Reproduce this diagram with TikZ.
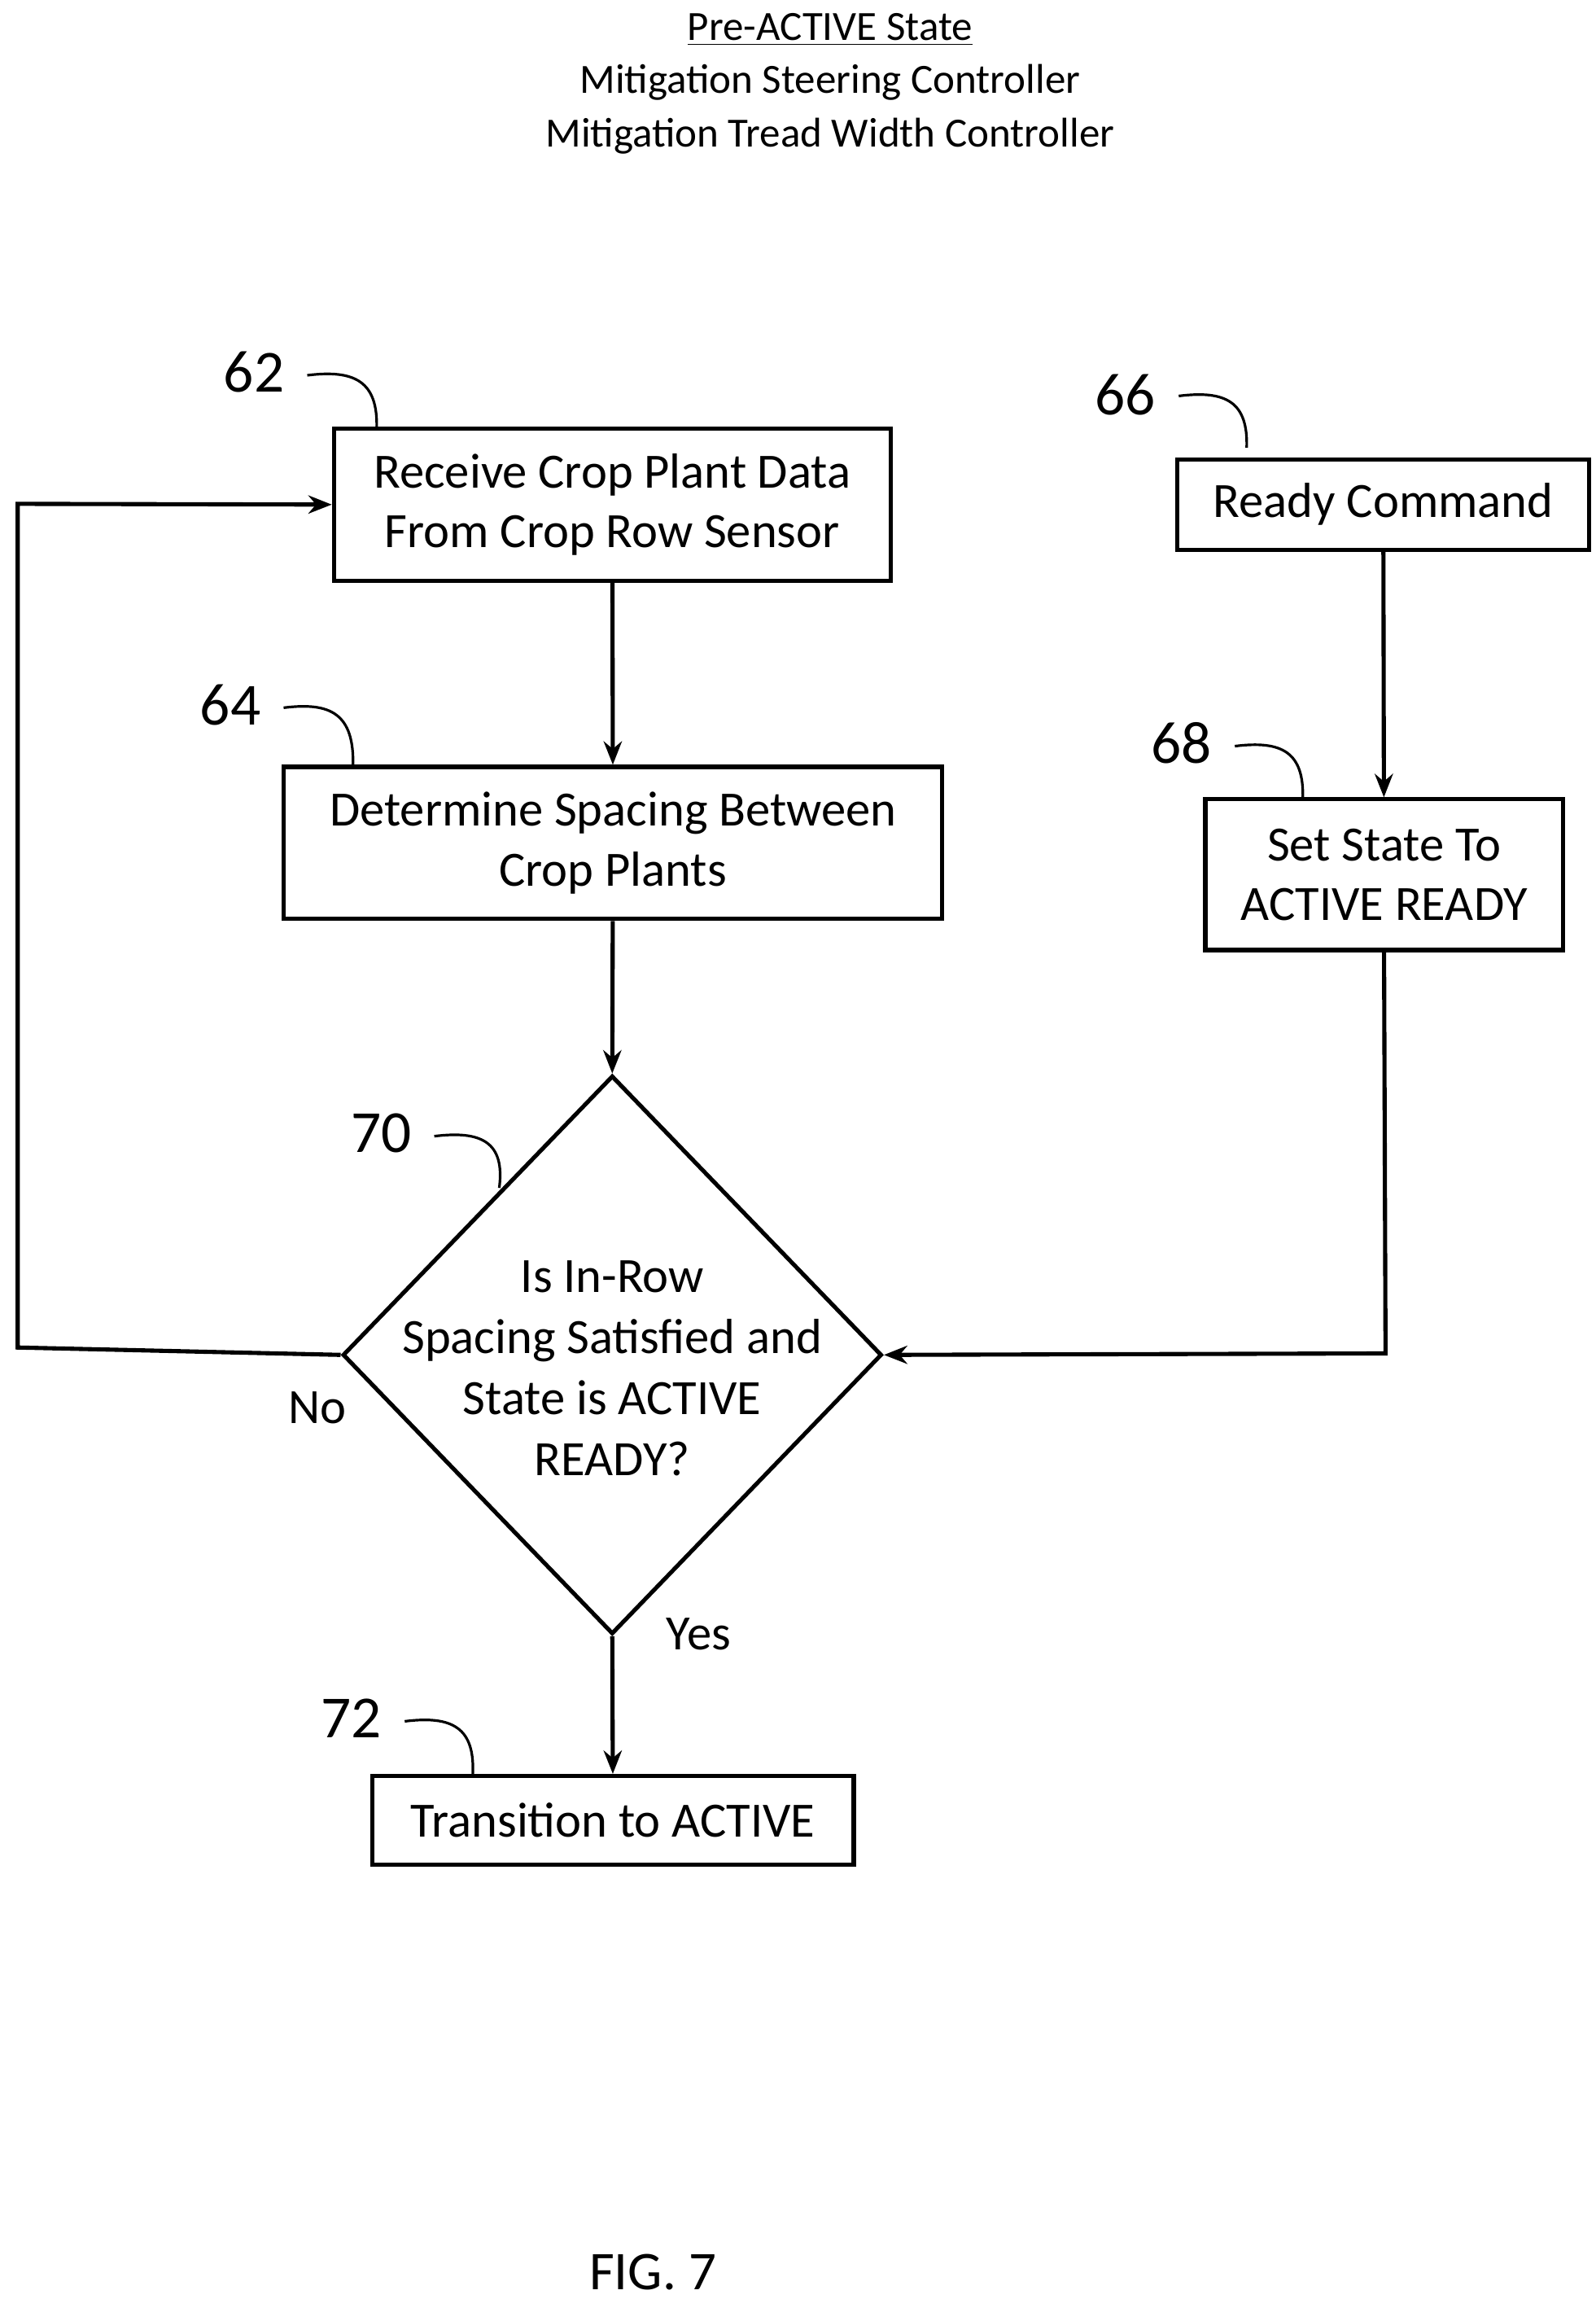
\documentclass[tikz,border=0pt]{standalone}
\usepackage{fontspec}
\setmainfont{Carlito}
\usetikzlibrary{arrows.meta,shapes.geometric}
\begin{document}
\begin{tikzpicture}[x=0.02cm,y=-0.02cm,
  box/.style={draw,line width=1.6pt,inner sep=0,font=\fontsize{19}{23}\selectfont,align=center},
  lbl/.style={font=\fontsize{23}{26}\selectfont},
  sq/.style={line width=1pt},
  arr/.style={line width=1.6pt,-{Stealth[length=9pt,width=7pt]}},
  ln/.style={line width=1.6pt}]
\useasboundingbox (0,0) rectangle (1080,1556);
\node[font=\fontsize{16}{19}\selectfont] (t1) at (562,20) {\underline{Pre-ACTIVE State}};
\node[font=\fontsize{16}{19}\selectfont] (t2) at (562,56) {Mitigation Steering Controller};
\node[font=\fontsize{16}{19}\selectfont] (t3) at (562,92) {Mitigation Tread Width Controller};

\node[box,minimum width=377*0.02cm,minimum height=103*0.02cm] (b62) at (414.5,341.5) {Receive Crop Plant Data\\From Crop Row Sensor};
\node[box,minimum width=279*0.02cm,minimum height=61*0.02cm] (b66) at (936.5,341.5) {Ready Command};
\node[box,minimum width=446*0.02cm,minimum height=103*0.02cm] (b64) at (415,570.5) {Determine Spacing Between\\Crop Plants};
\node[box,minimum width=242*0.02cm,minimum height=102*0.02cm] (b68) at (937,592) {Set State To\\ACTIVE READY};
\node[draw,diamond,line width=1.6pt,inner sep=0,minimum width=365*0.02cm,minimum height=378*0.02cm] (d70) at (414.5,917) {};
\node[font=\fontsize{19}{23.5}\selectfont,align=center] (d70t) at (414.5,926) {Is In-Row\\Spacing Satisfied and\\State is ACTIVE\\READY?};
\node[box,minimum width=326*0.02cm,minimum height=60*0.02cm] (b72) at (415,1232) {Transition to ACTIVE};

\node[lbl] (l62) at (172,252) {62};
\node[lbl] (l64) at (156,477) {64};
\node[lbl] (l66) at (762,267) {66};
\node[lbl] (l68) at (800,503) {68};
\node[lbl] (l70) at (258,767) {70};
\node[lbl] (l72) at (238,1163) {72};
\draw[sq] (208,254) .. controls (240,250) and (256,258) .. (255,290);
\draw[sq] (192,479) .. controls (224,475) and (240,483) .. (239,519);
\draw[sq] (798,268) .. controls (830,264) and (845,272) .. (844,303);
\draw[sq] (836,505) .. controls (868,501) and (883,509) .. (882,541);
\draw[sq] (294,769) .. controls (326,765) and (342,773) .. (338,804);
\draw[sq] (274,1165) .. controls (306,1161) and (322,1169) .. (320,1202);

\node[font=\fontsize{19}{23}\selectfont] (no) at (215,953) {No};
\node[font=\fontsize{19}{23}\selectfont] (yes) at (473,1106) {Yes};

\draw[arr] (b62) -- (b64);
\draw[arr] (b64) -- (d70.north);
\draw[arr] (b66) -- (b68);
\draw[arr] (d70.south) -- (b72);
\coordinate (c1) at (12,912);
\coordinate (c2) at (12,341);
\draw[arr] (d70.west) -- (c1) -- (c2) -- (b62.west);
\coordinate (c3) at (938,916);
\draw[arr] (b68.south) -- (c3) -- (d70.east);

\node[font=\fontsize{21}{24}\selectfont] (fig) at (442,1538) {FIG. 7};
\end{tikzpicture}
\end{document}
